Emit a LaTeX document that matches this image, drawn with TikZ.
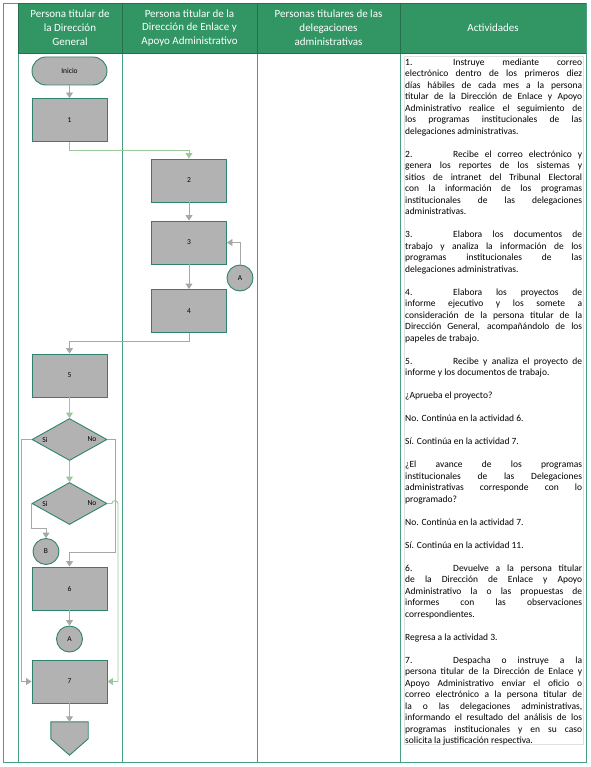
\documentclass[tikz,border=0pt]{standalone}
\usepackage{fontspec}
\setmainfont{Carlito}
\usetikzlibrary{shapes.geometric,arrows.meta,calc}
\definecolor{hdr}{RGB}{50,150,100}
\definecolor{hdrline}{RGB}{38,112,78}
\definecolor{tabline}{RGB}{72,158,128}
\definecolor{shapefill}{RGB}{178,178,178}
\definecolor{shapeline}{RGB}{48,130,110}
\definecolor{conngreen}{RGB}{155,200,155}
\definecolor{conngray}{RGB}{165,168,165}
\newcommand\actgap{\par\vskip 11.5pt}
\newcommand\actnum[1]{\makebox[48pt][l]{#1}}
\tikzset{
  hdrtxt/.style={text=white, align=center, inner sep=0pt, font=\fontsize{11}{13.8}\selectfont},
  procbox/.style={draw=shapeline, fill=shapefill, line width=0.9pt, minimum width=75pt, minimum height=43pt, inner sep=0pt, font=\fontsize{7.5}{8}\selectfont},
  termbox/.style={procbox, rounded corners=14pt, minimum height=28pt},
  decbox/.style={draw=shapeline, fill=shapefill, line width=0.9pt, diamond, minimum width=75pt, minimum height=42pt, inner sep=0pt},
  connbox/.style={draw=shapeline, fill=shapefill, line width=0.9pt, circle, minimum size=26pt, inner sep=0pt, font=\fontsize{7.5}{8}\selectfont},
  lbl/.style={inner sep=0pt, font=\fontsize{7.5}{8}\selectfont},
  conn/.style={draw=conngray, line width=0.9pt, -{Triangle[width=7pt,length=5.5pt]}},
  conng/.style={conn, draw=conngreen, color=conngreen},
  acttxt/.style={anchor=north west, inner sep=0pt, text width=177pt, align=justify, font={\fontsize{9.5}{11.5}\selectfont\parindent=0pt}}
}
\begin{document}
\begin{tikzpicture}[x=1pt,y=-1pt]
\useasboundingbox (0,0) rectangle (590,767);
% header
\fill[hdr] (18,3) rectangle (586,53);
\draw[tabline, line width=0.8pt] (3,3) rectangle (586,762);
\foreach \xx in {18,122,257,400} \draw[tabline, line width=0.8pt] (\xx,3) -- (\xx,762);
\draw[hdrline, line width=0.9pt] (18,3) -- (586,3) (18,53) -- (586,53);
\foreach \xx in {18,122,257,400} \draw[hdrline, line width=0.9pt] (\xx,3) -- (\xx,53);
\node[hdrtxt] (h1) at (70,28) {Persona titular de\\la Dirección\\General};
\node[hdrtxt] (h2) at (189.5,28) {Persona titular de la\\Dirección de Enlace y\\Apoyo Administrativo};
\node[hdrtxt] (h3) at (328.5,28) {Personas titulares de las\\delegaciones\\administrativas};
\node[hdrtxt] (h4) at (493,28) {Actividades};
% text box frame
\draw[black!12, line width=0.7pt] (404.5,56) rectangle (583,744);
% flowchart
\node[termbox] (ini) at (69.5,71) {Inicio};
\node[procbox] (b1) at (69.5,120) {1};
\node[procbox] (b2) at (189,180.5) {2};
\node[procbox] (b3) at (189,242.5) {3};
\node[procbox] (b4) at (189,311) {4};
\node[connbox] (ca1) at (240,278) {A};
\node[procbox] (b5) at (69.5,375.5) {5};
\node[decbox] (d1) at (69.5,439.5) {};
\node[lbl] (d1si) at (45,439.5) {Si};
\node[lbl] (d1no) at (92,439.5) {No};
\node[decbox] (d2) at (69.5,503.5) {};
\node[lbl] (d2si) at (45,503.5) {Si};
\node[lbl] (d2no) at (92,503.5) {No};
\node[connbox] (cb) at (46,551.5) {B};
\node[procbox] (b6) at (69.5,588.5) {6};
\node[connbox] (ca2) at (69.5,639) {A};
\node[procbox] (b7) at (69.5,681.5) {7};
\node[inner sep=0pt, minimum width=37pt, minimum height=33pt] (fin) at (69.5,738.5) {};
\draw[draw=shapeline, fill=shapefill, line width=0.9pt]
  (fin.north west) -- (fin.north east) -- ($(fin.north east)+(0,17)$) -- (fin.south)
  -- ($(fin.north west)+(0,17)$) -- cycle;
% connectors
\draw[conn] (ini) -- (b1);
\draw[conng] (b1.south) -- ++(0,8.5) -| (b2.north);
\draw[conn] (b2) -- (b3);
\draw[conn] (b3) -- (b4);
\draw[conn] (ca1.north) |- (b3.east);
\draw[conn] (b4.south) -- ++(0,8.5) -| (b5.north);
\draw[conng] (b5) -- (d1);
\draw[conng] (d1) -- (d2);
\draw[conn] (d1.west) -- ++(-10,0) |- (b7.west);
\draw[conn] (d1.east) -- ++(7.5,0) -- ++(0,112.5) -| (b6.north);
\draw[conn] (d2.west) -- ++(0,25) -| (cb.north);
\draw[conng] (d2.east) -- ++(4.5,0) arc[start angle=180, end angle=360, radius=3] -- ++(0,0) |- (b7.east);
\draw[conn] (b6) -- (ca2);
\draw[conn] (b7) -- (fin.north);
% activities
\node[acttxt] (act) at (405,58.5) {%
\actnum{1.}Instruye mediante correo\linebreak
electrónico dentro de los primeros diez\linebreak
días hábiles de cada mes a la persona\linebreak
titular de la Dirección de Enlace y Apoyo\linebreak
Administrativo realice el seguimiento de\linebreak
los programas institucionales de las\linebreak
delegaciones administrativas.\actgap
\actnum{2.}Recibe el correo electrónico y\linebreak
genera los reportes de los sistemas y\linebreak
sitios de intranet del Tribunal Electoral\linebreak
con la información de los programas\linebreak
institucionales de las delegaciones\linebreak
administrativas.\actgap
\actnum{3.}Elabora los documentos de\linebreak
trabajo y analiza la información de los\linebreak
programas institucionales de las\linebreak
delegaciones administrativas.\actgap
\actnum{4.}Elabora los proyectos de\linebreak
informe ejecutivo y los somete a\linebreak
consideración de la persona titular de la\linebreak
Dirección General, acompañándolo de los\linebreak
papeles de trabajo.\actgap
\actnum{5.}Recibe y analiza el proyecto de\linebreak
informe y los documentos de trabajo.\actgap
¿Aprueba el proyecto?\actgap
No. Continúa en la actividad 6.\actgap
Sí. Continúa en la actividad 7.\actgap
¿El avance de los programas\linebreak
institucionales de las Delegaciones\linebreak
administrativas corresponde con lo\linebreak
programado?\actgap
No. Continúa en la actividad 7.\actgap
Sí. Continúa en la actividad 11.\actgap
\actnum{6.}Devuelve a la persona titular\linebreak
de la Dirección de Enlace y Apoyo\linebreak
Administrativo la o las propuestas de\linebreak
informes con las observaciones\linebreak
correspondientes.\actgap
Regresa a la actividad 3.\actgap
\actnum{7.}Despacha o instruye a la\linebreak
persona titular de la Dirección de Enlace y\linebreak
Apoyo Administrativo enviar el oficio o\linebreak
correo electrónico a la persona titular de\linebreak
la o las delegaciones administrativas,\linebreak
informando el resultado del análisis de los\linebreak
programas institucionales y en su caso\linebreak
solicita la justificación respectiva.};
\end{tikzpicture}
\end{document}
